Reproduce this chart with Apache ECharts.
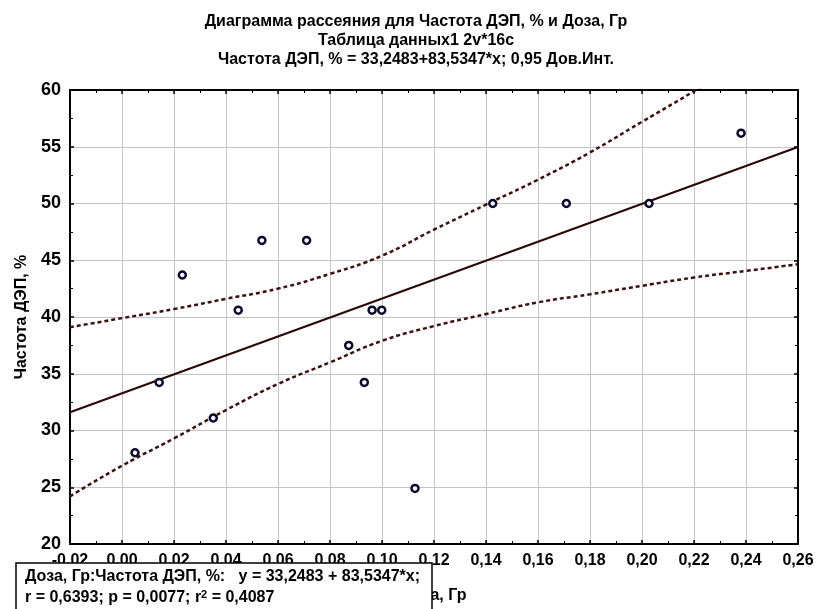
<!DOCTYPE html>
<html>
<head>
<meta charset="utf-8">
<script src="https://cdn.jsdelivr.net/npm/echarts@6/dist/echarts.min.js"></script>
<style>
html,body{margin:0;padding:0;background:#fff;}
#c{width:818px;height:609px;}
</style>
</head>
<body>
<div id="c"></div>
<script>
const doseX = [0.005, 0.0143, 0.0232, 0.0351, 0.0447, 0.0538, 0.071, 0.0872, 0.0932, 0.0962, 0.0999, 0.1127, 0.1426, 0.1709, 0.2027, 0.2381];
const freqY = [28.04, 34.24, 43.7, 31.1, 40.6, 46.75, 46.75, 37.5, 34.24, 40.6, 40.6, 24.9, 50.0, 50.0, 50.0, 56.2];

// Fitted line end points
const fitX = [-0.02, 0.26];
const fitY = [31.6, 54.97];

// 0.95 confidence band
const ciX     = [-0.02, 0.00, 0.02, 0.04, 0.06, 0.08, 0.10, 0.12, 0.14, 0.16, 0.18, 0.20, 0.22, 0.24, 0.26];
const ciUpper = [39.1, 39.9, 40.7, 41.6, 42.5, 43.8, 45.4, 47.7, 49.9, 52.1, 54.5, 57.2, 59.9, 62.8, 65.7];
const ciLower = [24.2, 26.9, 29.3, 31.8, 34.1, 36.0, 37.9, 39.2, 40.26, 41.29, 42.0, 42.75, 43.48, 44.06, 44.65];

// Axis ticks
const xTicks = { min: -0.02, max: 0.26, step: 0.02 };
const yTicks = { min: 20, max: 60, step: 5 };

const titleLines = [
  'Диаграмма рассеяния для Частота ДЭП, % и Доза, Гр',
  'Таблица данных1 2v*16c',
  'Частота ДЭП, % = 33,2483+83,5347*x; 0,95 Дов.Инт.'
];
const xName = 'Доза, Гр';
const yName = 'Частота ДЭП, %';
const boxLine1 = 'Доза, Гр:Частота ДЭП, %:   y = 33,2483 + 83,5347*x;';
const boxLine2a = 'r = 0,6393; p = 0,0077; r';
const boxLine2b = ' = 0,4087';

const FONT = '"Liberation Sans", Arial, sans-serif';
const zip = (a, b) => a.map((v, i) => [v, b[i]]);

const chart = echarts.init(document.getElementById('c'), null, { renderer: 'canvas' });

const baseAxis = {
  type: 'value',
  axisLine: { show: true, onZero: false, lineStyle: { color: '#000', width: 2 } },
  axisTick: { show: true, inside: true, length: 4, lineStyle: { color: '#000', width: 1.5 } },
  minorTick: { show: true, splitNumber: 2, length: 3, lineStyle: { color: '#000', width: 1 } },
  splitLine: { show: false },
  axisLabel: { show: false }
};

const option = {
  animation: false,
  backgroundColor: '#fff',
  title: {
    text: titleLines.join('\n'),
    left: 411, top: 7, textAlign: 'center',
    textStyle: { fontFamily: FONT, fontWeight: 'bold', fontSize: 16, lineHeight: 19, color: '#000' }
  },
  grid: { left: 70, right: 20, top: 90, bottom: 63 },
  xAxis: [
    Object.assign({}, baseAxis, {
      position: 'bottom',
      min: xTicks.min, max: xTicks.max, interval: xTicks.step,
      splitLine: { show: true, lineStyle: { color: '#c4c4c4', width: 1 } },
      axisLabel: {
        show: true, margin: 9, color: '#000',
        fontFamily: FONT, fontWeight: 'bold', fontSize: 16,
        formatter: v => v.toFixed(2).replace('.', ',')
      },
      name: xName, nameLocation: 'middle', nameGap: 44,
      nameTextStyle: { fontFamily: FONT, fontWeight: 'bold', fontSize: 16, color: '#000' }
    }),
    Object.assign({}, baseAxis, {
      position: 'top',
      min: xTicks.min, max: xTicks.max, interval: xTicks.step
    })
  ],
  yAxis: [
    Object.assign({}, baseAxis, {
      position: 'left',
      min: yTicks.min, max: yTicks.max, interval: yTicks.step,
      splitLine: { show: true, lineStyle: { color: '#c4c4c4', width: 1 } },
      axisLabel: {
        show: true, margin: 9, color: '#000',
        fontFamily: FONT, fontWeight: 'bold', fontSize: 18,
        formatter: v => String(v)
      },
      name: yName, nameLocation: 'middle', nameGap: 36, nameRotate: 90,
      nameTextStyle: { fontFamily: FONT, fontWeight: 'bold', fontSize: 16, color: '#000' }
    }),
    Object.assign({}, baseAxis, {
      position: 'right',
      min: yTicks.min, max: yTicks.max, interval: yTicks.step
    })
  ],
  series: [
    {
      type: 'line', data: zip(fitX, fitY), showSymbol: false, z: 3,
      lineStyle: { color: '#2a0808', width: 2.2 }
    },
    {
      type: 'line', data: zip(ciX, ciUpper), showSymbol: false, smooth: true, clip: true, z: 3,
      lineStyle: { color: '#3a1212', width: 2.5, type: [4, 3] }
    },
    {
      type: 'line', data: zip(ciX, ciLower), showSymbol: false, smooth: true, clip: true, z: 3,
      lineStyle: { color: '#3a1212', width: 2.5, type: [4, 3] }
    },
    {
      type: 'scatter', data: zip(doseX, freqY), symbol: 'circle', symbolSize: 7, z: 5,
      itemStyle: { color: '#fff', borderColor: '#0a0a2a', borderWidth: 2.5, opacity: 1 }
    }
  ],
  graphic: [
    {
      type: 'rect', z: 100, zlevel: 1,
      shape: { x: 16, y: 563, width: 416, height: 60 },
      style: { fill: '#fff', stroke: '#000', lineWidth: 1.5 }
    },
    {
      type: 'text', z: 101, zlevel: 1, x: 25, y: 569,
      style: { text: boxLine1, font: 'bold 16px ' + FONT, fill: '#000' }
    },
    {
      type: 'text', z: 101, zlevel: 1, x: 25, y: 589,
      style: {
        text: boxLine2a + '{sup|2}' + boxLine2b,
        font: 'bold 16px ' + FONT, fill: '#000',
        rich: { sup: { font: 'bold 11px ' + FONT, fill: '#000', verticalAlign: 'top', padding: [0, 0, 7, 0] } }
      }
    }
  ]
};

chart.setOption(option);
</script>
</body>
</html>
